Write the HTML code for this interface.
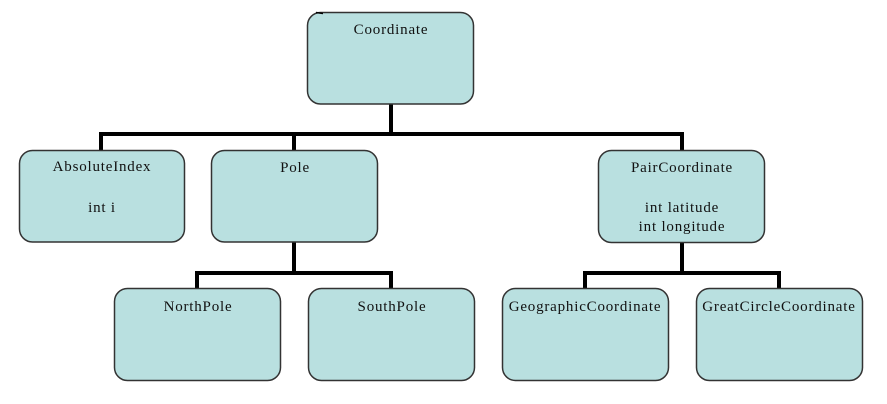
<!DOCTYPE html>
<html><head><meta charset="utf-8"><style>
html,body{margin:0;padding:0;background:#fff;}
svg{display:block;}
text{font-family:"Liberation Serif",serif;font-size:15px;letter-spacing:0.8px;fill:#111;text-anchor:middle;}
</style></head><body>
<svg width="887" height="404" viewBox="0 0 887 404" xmlns="http://www.w3.org/2000/svg">
<g stroke="#000" stroke-width="4" fill="none" stroke-linecap="square">
  <line x1="391" y1="104" x2="391" y2="134"/>
  <line x1="101" y1="134" x2="682" y2="134"/>
  <line x1="101" y1="134" x2="101" y2="150"/>
  <line x1="294" y1="134" x2="294" y2="150"/>
  <line x1="682" y1="134" x2="682" y2="150"/>
  <line x1="294" y1="242" x2="294" y2="273"/>
  <line x1="197" y1="273" x2="391" y2="273"/>
  <line x1="197" y1="273" x2="197" y2="288"/>
  <line x1="391" y1="273" x2="391" y2="288"/>
  <line x1="682" y1="243" x2="682" y2="273"/>
  <line x1="585" y1="273" x2="779" y2="273"/>
  <line x1="585" y1="273" x2="585" y2="288"/>
  <line x1="779" y1="273" x2="779" y2="288"/>
</g>
<g fill="#b9e0e0" stroke="#333" stroke-width="1.5">
  <rect x="307.5" y="12.5" width="166" height="91.5" rx="13"/>
  <rect x="19.5" y="150.5" width="165" height="91.5" rx="13"/>
  <rect x="211.5" y="150.5" width="166" height="91.5" rx="13"/>
  <rect x="598.5" y="150.5" width="166" height="92" rx="13"/>
  <rect x="114.5" y="288.5" width="166" height="92" rx="13"/>
  <rect x="308.5" y="288.5" width="166" height="92" rx="13"/>
  <rect x="502.5" y="288.5" width="166" height="92" rx="13"/>
  <rect x="696.5" y="288.5" width="166" height="92" rx="13"/>
</g>
<line x1="316" y1="12.5" x2="323" y2="13.5" stroke="#000" stroke-width="1.5"/>
<text x="391" y="34">Coordinate</text>
<text x="102" y="171">AbsoluteIndex</text>
<text x="102" y="212">int i</text>
<text x="295" y="172">Pole</text>
<text x="682" y="172">PairCoordinate</text>
<text x="682" y="212">int latitude</text>
<text x="682" y="231">int longitude</text>
<text x="198" y="311">NorthPole</text>
<text x="392" y="311">SouthPole</text>
<text x="585" y="311">GeographicCoordinate</text>
<text x="779" y="311">GreatCircleCoordinate</text>
</svg>
</body></html>
